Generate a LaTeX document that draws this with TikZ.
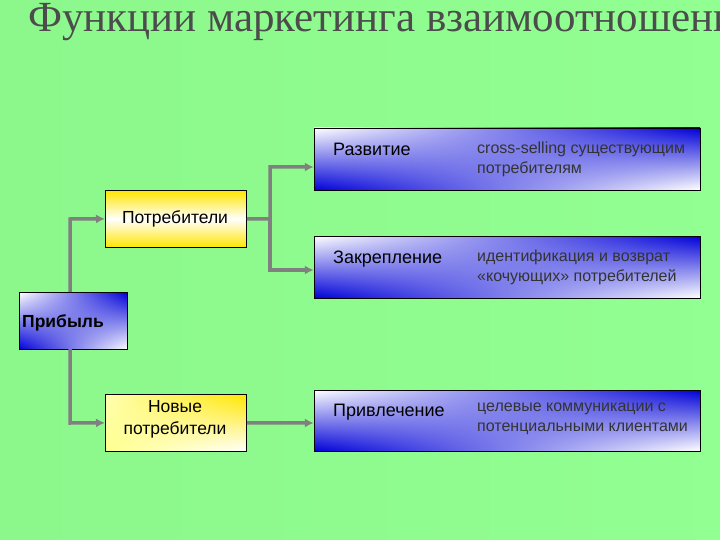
\documentclass[tikz,border=0pt]{standalone}
\usepackage{fontspec}
\usetikzlibrary{shadings,arrows.meta}
\setmainfont{Liberation Sans}
\newfontfamily\titlefont{Liberation Serif}
\begin{document}
\begin{tikzpicture}[x=1pt,y=-1pt,
  bluebox/.style={draw=black,line width=0.8pt,upper left=white,lower left=blue!85!black,upper right=blue!85!black,lower right=white},
  yelbox/.style={draw=black,line width=0.8pt,top color=yellow!80!orange,bottom color=yellow!80!orange,middle color=white},
  newbox/.style={draw=black,line width=0.8pt,upper left=yellow!30,lower left=yellow!45,upper right=yellow!80!orange,lower right=white},
  conn/.style={draw=gray,line width=3.5pt,-{Latex[length=9pt,width=9pt]}},
  lbl/.style={anchor=base west,font=\fontsize{18}{20}\selectfont,inner sep=0},
  desc/.style={anchor=north west,align=left,font=\fontsize{16}{20}\selectfont,text=black!80,inner sep=0}]
\useasboundingbox (0,0) rectangle (720,540);
\clip (0,0) rectangle (720,540);
\shade[left color=green!45!gray!40!green!50!white, right color=green!40!white] (0,0) rectangle (720,540);
\fill[green!45!white,opacity=0.5] (0,0) rectangle (720,540);
\node[anchor=base west,inner sep=0,font=\titlefont\fontsize{43}{46}\selectfont,text=black!70] (title) at (28,32) {Функции маркетинга взаимоотношений};
% boxes
\path[bluebox] (314,128) rectangle (700,190);
\path[bluebox] (314,236) rectangle (700,298);
\path[bluebox] (314,390) rectangle (700,451);
\node[bluebox,minimum width=108pt,minimum height=57pt,anchor=north west,inner sep=0] (prib) at (19,292) {};
\node[yelbox,minimum width=141pt,minimum height=57pt,anchor=north west,inner sep=0] (potr) at (105,190) {};
\node[newbox,minimum width=141pt,minimum height=57pt,anchor=north west,inner sep=0] (nov) at (105,394) {};
\node[inner sep=0,minimum size=0] (razv) at (314,167) {};
\node[inner sep=0,minimum size=0] (zakr) at (314,270) {};
\node[inner sep=0,minimum size=0] (privl) at (314,423) {};
\coordinate (pt) at (70,292);
\coordinate (pb) at (70,349);
% texts
\node[anchor=base west,inner sep=0,font=\bfseries\fontsize{17.5}{20}\selectfont] (pribt) at (22,327) {Прибыль};
\node[anchor=base,inner sep=0,font=\fontsize{17.5}{20}\selectfont] (potrt) at (175,223) {Потребители};
\node[anchor=north,align=center,inner sep=0,font=\fontsize{17.5}{22}\selectfont] (novt) at (175,400) {Новые\\потребители};
\node[lbl] (razvt) at (333,156) {Развитие};
\node[lbl] (zakrt) at (333,263) {Закрепление};
\node[lbl] (privlt) at (333,416) {Привлечение};
\node[desc] (d1) at (477,142) {cross-selling существующим\\потребителям};
\node[desc] (d2) at (477,250) {идентификация и возврат\\«кочующих» потребителей};
\node[desc] (d3) at (477,403) {целевые коммуникации с\\потенциальными клиентами};
% connectors
\draw[conn] (pt) -- (70,219) -- (potr.west);
\draw[conn] (pb) -- (70,423) -- (nov.west);
\draw[conn] (potr.east) -- (270,219) -- (270,167) -- (razv.west);
\draw[conn] (270,219) -- (270,270) -- (zakr.west);
\draw[conn] (nov.east) -- (privl.west);
\end{tikzpicture}
\end{document}
